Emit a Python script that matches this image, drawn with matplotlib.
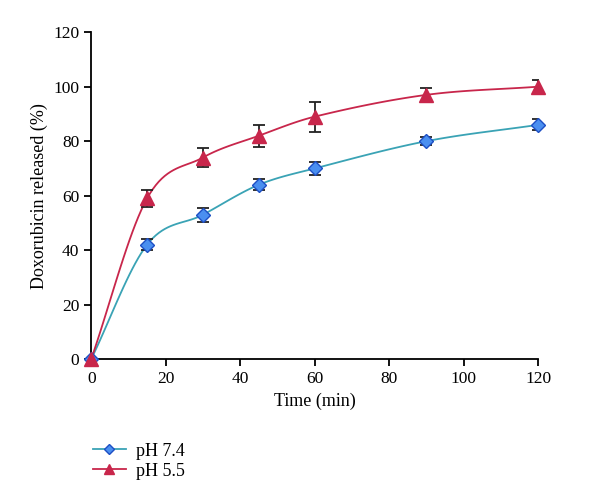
import numpy as np
import matplotlib; matplotlib.use("Agg")
import matplotlib.pyplot as plt

plt.rcParams['font.family'] = ['Liberation Serif', 'DejaVu Serif']

time = [0, 15, 30, 45, 60, 90, 120]
ph74 = [0, 42, 53, 64, 70, 80, 86]
ph74_err = [0, 2, 2.5, 2, 2.5, 1.5, 2]
ph55 = [0, 59, 74, 82, 89, 97, 100]
ph55_err = [0, 3, 3.5, 4, 5.5, 2.5, 2.5]

def smooth(x, y, n=20):
    # Catmull-Rom style curve through the data points (display only)
    x = np.asarray(x, float); y = np.asarray(y, float)
    xs, ys = [], []
    for i in range(len(x) - 1):
        h = x[i+1] - x[i]
        def slope(j):
            if j == 0: return (y[1]-y[0])/(x[1]-x[0])
            if j == len(x)-1: return (y[-1]-y[-2])/(x[-1]-x[-2])
            return (y[j+1]-y[j-1])/(x[j+1]-x[j-1])
        m0, m1 = slope(i), slope(i+1)
        t = np.linspace(0, 1, n)
        h00 = 2*t**3-3*t**2+1; h10 = t**3-2*t**2+t
        h01 = -2*t**3+3*t**2; h11 = t**3-t**2
        xs.append(x[i]+t*h)
        ys.append(h00*y[i]+h10*h*m0+h01*y[i+1]+h11*h*m1)
    return np.concatenate(xs), np.concatenate(ys)

fig = plt.figure(figsize=(6, 5.03), dpi=100)
ax = fig.add_axes([0.152, 0.286, 0.745, 0.65])

teal = "#3aa3b5"; red = "#c8264b"
sx, sy = smooth(time, ph74)
ax.plot(sx, sy, color=teal, lw=1.3)
sx, sy = smooth(time, ph55)
ax.plot(sx, sy, color=red, lw=1.3)
ax.errorbar(time, ph74, yerr=ph74_err, fmt="none", ecolor="#222222", elinewidth=1.3, capsize=4, capthick=1.3)
ax.errorbar(time, ph55, yerr=ph55_err, fmt="none", ecolor="#222222", elinewidth=1.3, capsize=4, capthick=1.3)
ax.plot(time, ph74, "D", color="#4a8ff0", mec="#1d4fc4", mew=1, ms=7.5, zorder=5, clip_on=False)
ax.plot(time, ph55, "^", color=red, mec=red, ms=9.5, zorder=5, clip_on=False)

l1, = ax.plot([], [], "-D", color=teal, mfc="#4a8ff0", mec="#1d4fc4", ms=5, lw=1.3)
l2, = ax.plot([], [], "-^", color=red, mfc=red, mec=red, ms=7, lw=1.3)
fig.legend([l1, l2], ["pH 7.4", "pH 5.5"], loc="upper left", bbox_to_anchor=(0.128, 0.152),
           frameon=False, fontsize=13, handlelength=1.8, handletextpad=0.6, labelspacing=0.15)

ax.set_xlim(0, 120); ax.set_ylim(0, 120)
ax.set_xticks(range(0, 121, 20)); ax.set_yticks(range(0, 121, 20))
ax.spines[['top', 'right']].set_visible(False)
ax.spines[['left', 'bottom']].set_linewidth(1.3)
ax.tick_params(direction="out", length=5, width=1.3, labelsize=12.5)
ax.set_xlabel("Time (min)", fontsize=13)
ax.set_ylabel("Doxorubicin released (%)", fontsize=13)
fig.savefig("out.png", dpi=100)
